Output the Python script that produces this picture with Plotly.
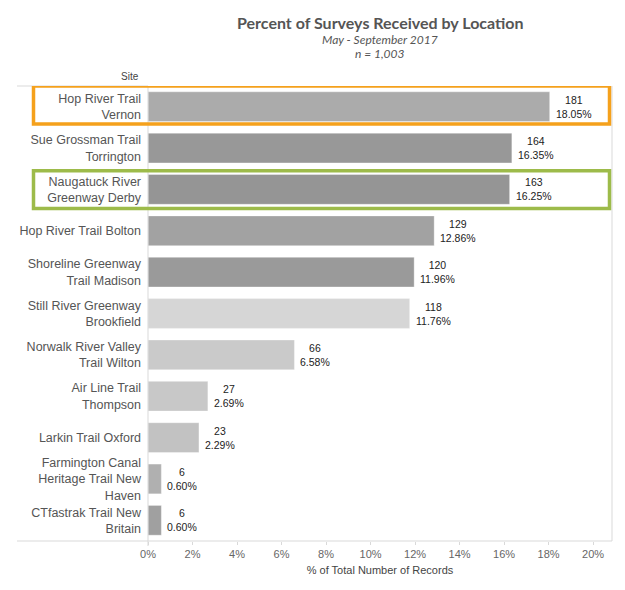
import plotly.graph_objects as go

sites = [
    "Hop River Trail<br>Vernon",
    "Sue Grossman Trail<br>Torrington",
    "Naugatuck River<br>Greenway Derby",
    "Hop River Trail Bolton",
    "Shoreline Greenway<br>Trail Madison",
    "Still River Greenway<br>Brookfield",
    "Norwalk River Valley<br>Trail Wilton",
    "Air Line Trail<br>Thompson",
    "Larkin Trail Oxford",
    "Farmington Canal<br>Heritage Trail New<br>Haven",
    "CTfastrak Trail New<br>Britain",
]
counts = [181, 164, 163, 129, 120, 118, 66, 27, 23, 6, 6]
percents = [18.05, 16.35, 16.25, 12.86, 11.96, 11.76, 6.58, 2.69, 2.29, 0.60, 0.60]
bar_colors = ["#ababab", "#989898", "#959595", "#a2a2a2", "#9a9a9a", "#d6d6d6",
              "#cacaca", "#c8c8c8", "#c2c2c2", "#b0b0b0", "#a0a0a0"]
tick_vals = [0, 2, 4, 6, 8, 10, 12, 14, 16, 18, 20]
tick_text = [f"{v}%" for v in tick_vals]

FONT = "'Liberation Sans'"
W, H = 617, 582
L, R, T, B = 140, 13, 78, 49
PW, PH = W - L - R, H - T - B


def px(x):
    return (x - L) / PW


def py(y):
    return 1 - (y - T) / PH


fig = go.Figure()
fig.add_trace(go.Bar(
    y=sites, x=percents, orientation="h",
    marker=dict(color=bar_colors, line=dict(color="rgba(255,255,255,0.35)", width=1)),
    width=0.72, hoverinfo="skip",
))

for s, c, p in zip(sites, counts, percents):
    fig.add_annotation(
        x=p, y=s, xref="x", yref="y", text=f"{c}<br>{p:.2f}%",
        showarrow=False, xanchor="left", yanchor="middle", align="center",
        xshift=4, font=dict(family=FONT, size=10.5, color="#222"),
    )

grey = "#d9d9d9"
fig.add_shape(type="line", xref="paper", yref="paper", x0=px(9), x1=1.0, y0=0, y1=0,
              line=dict(color=grey, width=1))
fig.add_shape(type="line", xref="paper", yref="paper", x0=px(9), x1=0, y0=1, y1=1,
              line=dict(color=grey, width=1))
fig.add_shape(type="line", xref="paper", yref="paper", x0=1.0, x1=1.0, y0=0, y1=1,
              line=dict(color=grey, width=1))
fig.add_shape(type="line", xref="paper", yref="paper", x0=0, x1=0, y0=py(538), y1=1,
              line=dict(color=grey, width=1))
fig.add_shape(type="line", xref="paper", yref="paper", x0=px(-3), x1=px(-3), y0=py(590), y1=py(-8),
              line=dict(color="#ececec", width=1))

# highlight boxes
fig.add_shape(type="rect", xref="paper", yref="y", x0=px(25.5), x1=px(601.5),
              y0=-0.5, y1=0.42, line=dict(color="#f5a11c", width=3.5),
              fillcolor="rgba(0,0,0,0)")
fig.add_shape(type="rect", xref="paper", yref="y", x0=px(25.5), x1=px(601.5),
              y0=1.55, y1=2.46, line=dict(color="#9dbb4a", width=3.5),
              fillcolor="rgba(0,0,0,0)")

fig.add_annotation(x=0, y=1.0, xref="paper", yref="paper", text="Site",
                   showarrow=False, xanchor="right", yanchor="bottom", yshift=2,
                   xshift=-7, font=dict(family=FONT, size=10, color="#444"))

# titles
fig.add_annotation(x=0.5, y=py(14), xref="paper", yref="paper",
                   text="<b>Percent of Surveys Received by Location</b>",
                   showarrow=False, xanchor="center", yanchor="middle",
                   font=dict(family="Lato, Open Sans, sans-serif", size=16, color="#555"))
fig.add_annotation(x=0.5, y=py(32), xref="paper", yref="paper",
                   text="<i>May - September 2017</i>",
                   showarrow=False, xanchor="center", yanchor="middle",
                   font=dict(family="Lato, Open Sans, sans-serif", size=12, color="#555"))
fig.add_annotation(x=0.5, y=py(45), xref="paper", yref="paper",
                   text="<i>n = 1,003</i>",
                   showarrow=False, xanchor="center", yanchor="middle",
                   font=dict(family="Lato, Open Sans, sans-serif", size=12, color="#555"))

fig.update_layout(
    width=W, height=H,
    margin=dict(l=L, r=R, t=T, b=B),
    paper_bgcolor="white", plot_bgcolor="white",
    showlegend=False,
    xaxis=dict(
        range=[0, 20.85], tickvals=tick_vals, ticktext=tick_text,
        showgrid=False, zeroline=False, showline=False,
        ticks="outside", ticklen=3, tickcolor=grey,
        tickfont=dict(family=FONT, size=11, color="#666"),
        title=dict(text="% of Total Number of Records", standoff=7,
                   font=dict(family=FONT, size=11, color="#444")),
        fixedrange=True,
    ),
    yaxis=dict(
        categoryorder="array", categoryarray=sites, autorange=False,
        range=[10.5, -0.5], showgrid=False, zeroline=False, showline=False,
        ticks="", ticklabelstandoff=6,
        tickfont=dict(family=FONT, size=12.5, color="#555"),
        fixedrange=True,
    ),
    bargap=0.28,
)

fig.write_html("out.html")
